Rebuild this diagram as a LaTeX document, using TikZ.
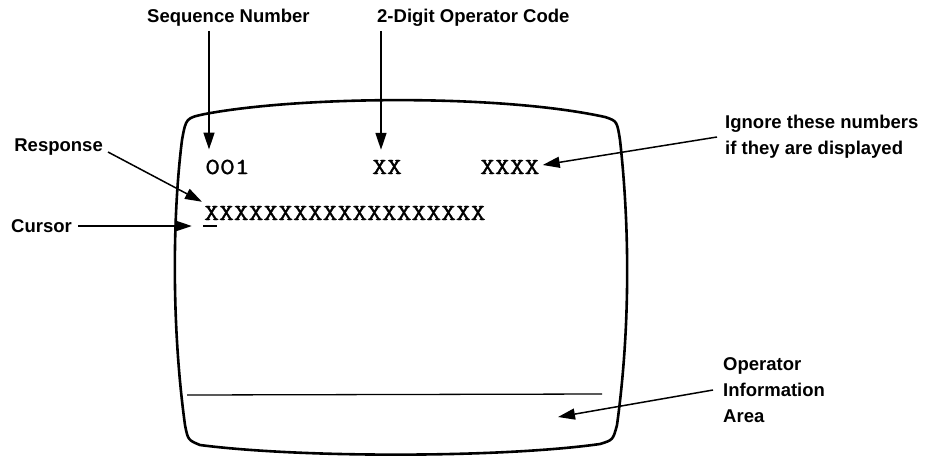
\documentclass[tikz,border=0pt]{standalone}
\usepackage{fontspec}
\setmainfont{Liberation Sans}
\newfontfamily\scrfont[FakeBold=1.2]{Latin Modern Mono}
\usetikzlibrary{arrows.meta}

\begin{document}
\begin{tikzpicture}[x=1pt, y=-1pt,
    lbl/.style={inner sep=0pt, font=\fontsize{18.5}{26}\selectfont\bfseries},
    scr/.style={inner sep=0pt, anchor=west, xscale=1.25, transform shape,
                font=\fontsize{23}{23}\selectfont\scrfont},
    arr/.style={-{Triangle[length=17pt, width=11pt]}, line width=1.5pt},
    cursorbar/.style={fill=black, inner sep=0pt, minimum width=14pt, minimum height=2.2pt}]
    \useasboundingbox (0,0) rectangle (929,456);

    % Contorno de la pantalla
    \draw[line width=2.6pt, line join=round]
        (205,114) .. controls (300,96) and (500,94) .. (605,117)
        .. controls (617,121) .. (620,140)
        .. controls (630,230) and (630,330) .. (617,425)
        .. controls (613,440) .. (600,444)
        .. controls (500,458) and (300,458) .. (200,445)
        .. controls (188,440) .. (185,425)
        .. controls (172,330) and (172,220) .. (182,140)
        .. controls (186,118) .. (205,114) -- cycle;
    % Linea del area de informacion
    \draw[line width=1.3pt] (187,395) -- (602,394);

    % Texto de la pantalla
    \node[scr] (d001) at (205,167) {001};
    \node[scr] (dxx) at (372,167) {XX};
    \node[scr] (dxxxx) at (480,167) {XXXX};
    \node[scr] (resprow) at (204,213) {XXXXXXXXXXXXXXXXXXX};
    \node[cursorbar] (cur) at (210,226) {};
    \coordinate (oia) at (558,417);

    % Etiquetas
    \node[lbl, anchor=west] (seq) at (147,18) {Sequence Number};
    \node[lbl, anchor=west] (opc) at (377,18) {2-Digit Operator Code};
    \node[lbl, anchor=east] (resp) at (103,147) {Response};
    \node[lbl, anchor=east] (curs) at (72,226) {Cursor};
    \node[lbl, anchor=west, align=left] (ign) at (725,137) {Ignore these numbers\\if they are displayed};
    \node[lbl, anchor=west, align=left] (opi) at (723,390) {Operator\\Information\\Area};

    % Flechas
    \draw[arr] ([xshift=62pt, yshift=-4pt]seq.south west) -- ([xshift=4pt, yshift=10pt]d001.north west);
    \draw[arr] ([xshift=4pt, yshift=-4pt]opc.south west) -- ([xshift=9pt, yshift=10pt]dxx.north west);
    \draw[arr] ([xshift=5pt, yshift=-5pt]resp.east) -- ([xshift=-2pt, yshift=4pt]resprow.north west);
    \draw[arr] ([xshift=6pt]curs.east) -- ([xshift=-11pt]cur.west);
    \draw[arr] ([xshift=-8pt]ign.west) -- ([xshift=3pt, yshift=2pt]dxxxx.east);
    \draw[arr] ([xshift=-10pt]opi.west) -- (oia);
\end{tikzpicture}
\end{document}
